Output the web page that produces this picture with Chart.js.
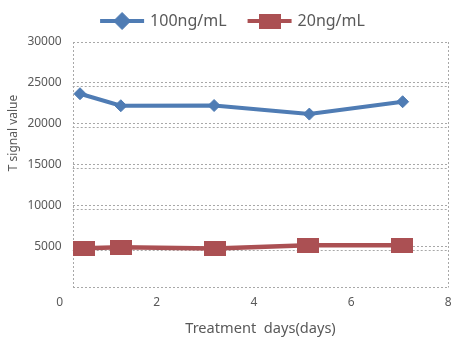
<!DOCTYPE html>
<html>
<head>
<meta charset="utf-8">
<script src="https://cdn.jsdelivr.net/npm/chart.js@4.4.0/dist/chart.umd.min.js"></script>
<style>
  html, body { margin: 0; padding: 0; background: #fff; }
</style>
</head>
<body>
<canvas id="chart" width="469" height="350"></canvas>
<script>
// values
const seriesNames = ['100ng/mL', '20ng/mL'];
const daysHigh = [0.42, 1.26, 3.18, 5.14, 7.06];
const signalHigh = [23680, 22210, 22240, 21190, 22700];
const daysLow = [0.51, 1.26, 3.20, 5.12, 7.05];
const signalLow = [4810, 4920, 4770, 5160, 5160];
const xTicks = [0, 2, 4, 6, 8];
const yTicks = [0, 5000, 10000, 15000, 20000, 25000, 30000];
const xTitle = 'Treatment  days(days)';
const yTitle = 'T signal value';

const BLUE = '#4f7cb4';
const RED = '#ab5053';
const GRID = '#a8a8a8';
const TEXT = '#595959';
const FONT = "'Noto Sans', sans-serif";

// wide square marker used by the 20ng/mL series
function rectMarker(w, h, color) {
    const c = document.createElement('canvas');
    c.width = w;
    c.height = h;
    const g = c.getContext('2d');
    g.fillStyle = color;
    g.fillRect(0, 0, w, h);
    return c;
}
const redBox = rectMarker(22, 15, RED);

// second dashed line under each inner gridline + left/right sides of the box
const framePlugin = {
    id: 'frame',
    beforeDatasetsDraw(chart) {
        const { ctx, chartArea: a } = chart;
        const y = chart.scales.y;
        ctx.save();
        ctx.strokeStyle = GRID;
        ctx.lineWidth = 1;
        ctx.setLineDash([2, 2]);
        yTicks.forEach(v => {
            if (v === y.min || v === y.max) return;
            const py = Math.round(y.getPixelForValue(v)) + 3.5;
            ctx.beginPath();
            ctx.moveTo(a.left, py);
            ctx.lineTo(a.right, py);
            ctx.stroke();
        });
        [a.left, a.right].forEach(px => {
            const x = Math.round(px) + 0.5;
            ctx.beginPath();
            ctx.moveTo(x, a.top);
            ctx.lineTo(x, a.bottom);
            ctx.stroke();
        });
        ctx.restore();
    }
};

// legend with line + marker, like the spreadsheet one
const legendPlugin = {
    id: 'lineLegend',
    afterDraw(chart) {
        const ctx = chart.ctx;
        const lineLen = 44, gapText = 6, gapItem = 21, y = 21;
        ctx.save();
        ctx.font = '16px ' + FONT;
        const items = chart.data.datasets.map(ds => ({ ds: ds, w: ctx.measureText(ds.label).width }));
        const total = items.reduce((s, it) => s + lineLen + gapText + it.w, 0) + gapItem * (items.length - 1);
        let x = chart.width / 2 - 2 - total / 2;
        items.forEach(it => {
            const ds = it.ds;
            ctx.strokeStyle = ds.borderColor;
            ctx.fillStyle = ds.borderColor;
            ctx.lineWidth = 4;
            ctx.setLineDash([]);
            ctx.beginPath();
            ctx.moveTo(x, y);
            ctx.lineTo(x + lineLen, y);
            ctx.stroke();
            ctx.lineWidth = 1;
            Chart.helpers.drawPoint(ctx, {
                pointStyle: ds.pointStyle,
                radius: ds.pointStyle === 'rectRot' ? 8.5 : 7,
                borderWidth: 1,
                rotation: 0
            }, x + lineLen / 2, y);
            ctx.fillStyle = TEXT;
            ctx.textBaseline = 'middle';
            ctx.textAlign = 'left';
            ctx.fillText(ds.label, x + lineLen + gapText, y);
            x += lineLen + gapText + it.w + gapItem;
        });
        ctx.restore();
    }
};

// y title sits higher than the middle of the axis
const yTitlePlugin = {
    id: 'yTitle',
    afterDraw(chart) {
        const ctx = chart.ctx;
        ctx.save();
        ctx.translate(14, 133);
        ctx.rotate(-Math.PI / 2);
        ctx.font = '12px ' + FONT;
        ctx.fillStyle = TEXT;
        ctx.textAlign = 'center';
        ctx.textBaseline = 'middle';
        ctx.fillText(yTitle, 0, 0);
        ctx.restore();
    }
};

new Chart(document.getElementById('chart'), {
    type: 'line',
    data: {
        datasets: [{
            label: seriesNames[0],
            data: daysHigh.map((d, i) => ({ x: d, y: signalHigh[i] })),
            borderColor: BLUE,
            backgroundColor: BLUE,
            borderWidth: 4,
            pointStyle: 'rectRot',
            pointRadius: 6,
            pointHoverRadius: 6,
            pointBorderWidth: 1,
            tension: 0
        }, {
            label: seriesNames[1],
            data: daysLow.map((d, i) => ({ x: d, y: signalLow[i] })),
            borderColor: RED,
            backgroundColor: RED,
            borderWidth: 4.5,
            pointStyle: redBox,
            pointRadius: 8,
            pointHoverRadius: 8,
            tension: 0
        }]
    },
    options: {
        responsive: false,
        animation: false,
        events: [],
        layout: { padding: { top: 42, right: 20.7, bottom: 0, left: 0 } },
        plugins: {
            legend: { display: false },
            tooltip: { enabled: false }
        },
        scales: {
            x: {
                type: 'linear',
                min: 0.27,
                max: 8,
                afterBuildTicks: s => { s.ticks = xTicks.map(v => ({ value: v })); },
                afterFit: s => { s.height = 62.5; },
                grid: { display: false },
                border: { display: false },
                ticks: {
                    autoSkip: false,
                    maxRotation: 0,
                    padding: 0,
                    color: TEXT,
                    font: { family: FONT, size: 12 }
                },
                title: {
                    display: true,
                    text: xTitle,
                    color: TEXT,
                    font: { family: FONT, size: 14.6 },
                    padding: { top: 0, bottom: 12 }
                }
            },
            y: {
                min: 0,
                max: 30000,
                afterBuildTicks: s => { s.ticks = yTicks.map(v => ({ value: v })); },
                afterFit: s => { s.width = 72.7; },
                grid: { color: GRID, lineWidth: 1, drawTicks: false },
                border: { display: false, dash: [2, 2] },
                ticks: {
                    padding: 11,
                    color: TEXT,
                    font: { family: FONT, size: 12 },
                    callback: v => v === 0 ? '' : String(v)
                }
            }
        }
    },
    plugins: [framePlugin, legendPlugin, yTitlePlugin]
});
</script>
</body>
</html>
